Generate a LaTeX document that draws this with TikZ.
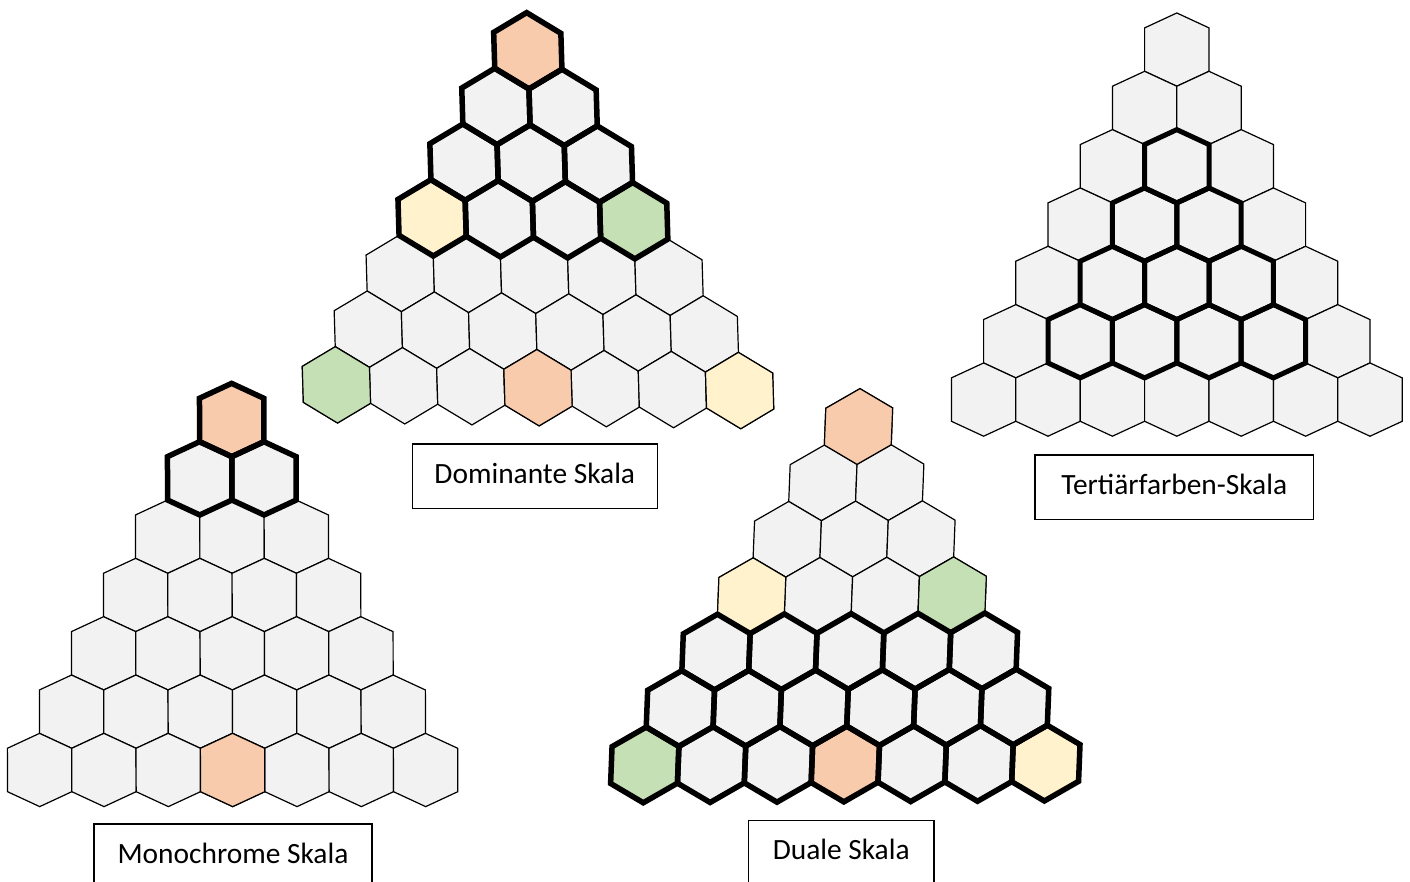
\documentclass[tikz,border=0pt]{standalone}
\usepackage{fontspec}
\setmainfont{Carlito}
\definecolor{peach}{HTML}{F8CBAD}
\definecolor{leaf}{HTML}{C5E0B4}
\definecolor{cream}{HTML}{FFF2CC}
\definecolor{cellgray}{HTML}{F2F2F2}
% one hexagon of a triangle: #1 = row, #2 = position in row, #3 = style
\newcommand\hexcell[3]{%
  \pgfmathsetmacro\hX{#2-#1/2}%
  \draw[#3] (\hX,#1-\hp) -- (\hX+0.5,#1-\hq) -- (\hX+0.5,#1+\hq)
    -- (\hX,#1+\hp) -- (\hX-0.5,#1+\hq) -- (\hX-0.5,#1-\hq) -- cycle;}
\begin{document}
\begin{tikzpicture}[x=1pt,y=-1pt,
  hexthin/.style={draw=black,line width=1.2pt,fill=cellgray,line join=miter},
  hexbold/.style={draw=black,line width=5.5pt,line join=miter},
  lbl/.style={draw=black,line width=1.3pt,fill=white,text height=14pt,text depth=0pt,
    inner sep=0pt,font=\fontsize{29.4pt}{35pt}\selectfont}]
\useasboundingbox (0,0) rectangle (1410,881);

% ---------------- Dominante Skala ----------------
\begin{scope}[shift={(527.8,50.8)},x={(67.2pt,-0.95pt)},y={(1.7pt,-56.15pt)}]
  \def\hp{0.68}\def\hq{0.32}
  \foreach \r in {0,...,6}{\foreach \k in {0,...,\r}{\hexcell{\r}{\k}{hexthin}}}
  \hexcell{0}{0}{hexthin,fill=peach}
  \hexcell{3}{0}{hexthin,fill=cream}
  \hexcell{3}{3}{hexthin,fill=leaf}
  \hexcell{6}{0}{hexthin,fill=leaf}
  \hexcell{6}{3}{hexthin,fill=peach}
  \hexcell{6}{6}{hexthin,fill=cream}
  \foreach \r in {0,...,3}{\foreach \k in {0,...,\r}{\hexcell{\r}{\k}{hexbold}}}
\end{scope}

% ---------------- Monochrome Skala ----------------
\begin{scope}[shift={(231.7,420)},x={(64.33pt,0pt)},y={(0.15pt,-58.33pt)}]
  \def\hp{0.628}\def\hq{0.372}
  \foreach \r in {0,...,6}{\foreach \k in {0,...,\r}{\hexcell{\r}{\k}{hexthin}}}
  \hexcell{0}{0}{hexthin,fill=peach}
  \hexcell{6}{3}{hexthin,fill=peach}
  \foreach \r in {0,...,1}{\foreach \k in {0,...,\r}{\hexcell{\r}{\k}{hexbold}}}
\end{scope}

% ---------------- Duale Skala ----------------
\begin{scope}[shift={(858.5,426.5)},x={(66.85pt,0.3pt)},y={(-2.2pt,-56.25pt)}]
  \def\hp{0.673}\def\hq{0.327}
  \foreach \r in {0,...,6}{\foreach \k in {0,...,\r}{\hexcell{\r}{\k}{hexthin}}}
  \hexcell{0}{0}{hexthin,fill=peach}
  \hexcell{3}{0}{hexthin,fill=cream}
  \hexcell{3}{3}{hexthin,fill=leaf}
  \hexcell{6}{0}{hexthin,fill=leaf}
  \hexcell{6}{3}{hexthin,fill=peach}
  \hexcell{6}{6}{hexthin,fill=cream}
  \foreach \r in {4,...,6}{\foreach \k in {0,...,\r}{\hexcell{\r}{\k}{hexbold}}}
\end{scope}

% ---------------- Tertiaerfarben-Skala ----------------
\begin{scope}[shift={(1176.8,49.6)},x={(64.4pt,0pt)},y={(0pt,-58.33pt)}]
  \def\hp{0.628}\def\hq{0.372}
  \foreach \r in {0,...,6}{\foreach \k in {0,...,\r}{\hexcell{\r}{\k}{hexthin}}}
  \foreach \r in {2,...,5}{%
    \pgfmathtruncatemacro\kmax{\r-1}%
    \foreach \k in {1,...,\kmax}{\hexcell{\r}{\k}{hexbold,line width=5pt}}}
\end{scope}

% ---------------- labels ----------------
\node[lbl,minimum width=245pt,minimum height=64.3pt] (domlbl) at (534.8,476.2) {Dominante Skala};
\node[lbl,minimum width=278.3pt,minimum height=64.3pt] (terlbl) at (1174.2,487.2) {Tertiärfarben-Skala};
\node[lbl,minimum width=278pt,minimum height=64pt] (monlbl) at (233,856) {Monochrome Skala};
\node[lbl,minimum width=185.7pt,minimum height=64pt] (duallbl) at (841.2,852.7) {Duale Skala};
\end{tikzpicture}
\end{document}
